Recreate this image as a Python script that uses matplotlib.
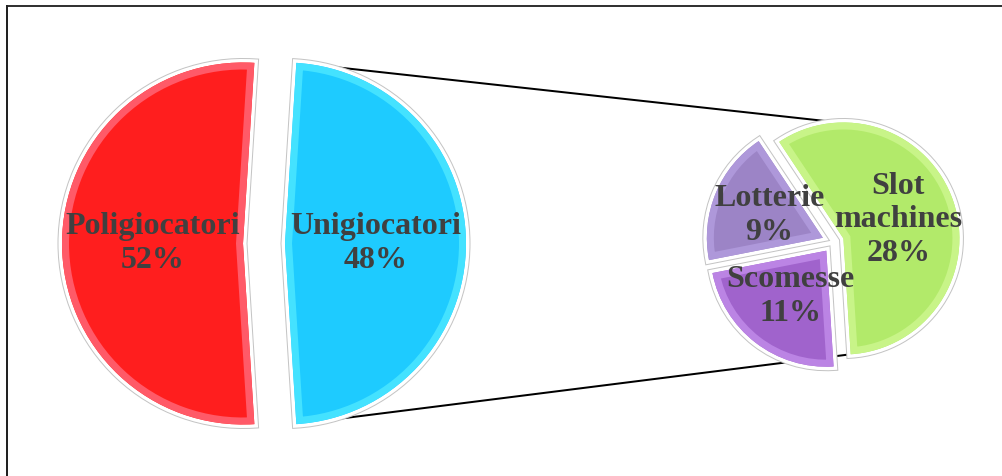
import matplotlib.pyplot as plt
from matplotlib.lines import Line2D
from matplotlib.patches import Wedge
import numpy as np

# data
main_labels = ["Poligiocatori", "Unigiocatori"]
main_values = [52, 48]
sub_labels = ["Slot\nmachines", "Lotterie", "Scomesse"]
sub_values = [28, 9, 11]

main_colors = ["#ff1e1e", "#1ecbff"]
main_rims = ["#ff5a68", "#44e2ff"]
sub_colors = ["#b2ea6a", "#9c84c6", "#a063cc"]
sub_rims = ["#c8f488", "#ae98da", "#bb84e4"]

W, H = 1003, 476
fig = plt.figure(figsize=(W / 100, H / 100), dpi=100)
ax = fig.add_axes([0, 0, 1, 1])

PX = 0.72  # points per pixel


def fancy_pie(values, labels, colors, rims, center, radius, explode, start):
    kw = dict(center=center, radius=radius, explode=[explode] * len(values),
              startangle=start, counterclock=True, frame=False)
    # grey outline + white halo behind the wedges
    ax.pie(values, colors=["white"] * len(values),
           wedgeprops=dict(edgecolor="#c4c4c4", linewidth=9 * PX, joinstyle="miter", zorder=2), **kw)
    ax.pie(values, colors=["white"] * len(values),
           wedgeprops=dict(edgecolor="white", linewidth=7 * PX, joinstyle="miter", zorder=2), **kw)
    txt = [f"{l}\n{v}%" for l, v in zip(labels, values)]
    wedges, texts = ax.pie(values, labels=txt, labeldistance=0.5, colors=colors,
                           wedgeprops=dict(linewidth=0, zorder=3),
                           textprops=dict(ha="center", va="center", family="Liberation Serif",
                                          weight="bold", size=23, color="#404040",
                                          linespacing=1.2, zorder=5),
                           **kw)
    # bevel rim, clipped to the inside of each wedge
    for w, rim in zip(wedges, rims):
        r = Wedge(w.center, w.r, w.theta1, w.theta2, facecolor="none",
                  edgecolor=rim, linewidth=14 * PX, zorder=4)
        ax.add_patch(r)
        r.set_clip_path(w)
    return wedges


def edge_point(w, ang):
    a = np.radians(ang)
    return (w.center[0] + w.r * np.cos(a), w.center[1] + w.r * np.sin(a))


# pies (explode given in pixels)
mw = fancy_pie(main_values, main_labels, main_colors, main_rims,
               center=(264, H - 243.5), radius=181, explode=21, start=86.4)
sw = fancy_pie(sub_values, sub_labels, sub_colors, sub_rims,
               center=(833, H - 242), radius=116, explode=11, start=-86.4)

# connector lines (behind the pies)
blue, green = mw[1], sw[0]
p1, q1 = edge_point(blue, blue.theta2), edge_point(green, 92)
p2, q2 = edge_point(blue, blue.theta1), edge_point(green, green.theta1)
ax.plot([p1[0], q1[0]], [p1[1], q1[1]], color="black", lw=2 * PX, zorder=1)
ax.plot([p2[0], q2[0]], [p2[1], q2[1]], color="black", lw=2 * PX, zorder=1)

ax.set_xlim(0, W)
ax.set_ylim(0, H)
ax.set_aspect("equal")
ax.axis("off")

# chart border (top and left visible)
fig.add_artist(Line2D([7 / W, 1], [1 - 6 / H, 1 - 6 / H], transform=fig.transFigure,
                      color="black", lw=1.6 * PX))
fig.add_artist(Line2D([7 / W, 7 / W], [0, 1 - 6 / H], transform=fig.transFigure,
                      color="#222222", lw=2 * PX))

fig.savefig("out.png", dpi=100)
